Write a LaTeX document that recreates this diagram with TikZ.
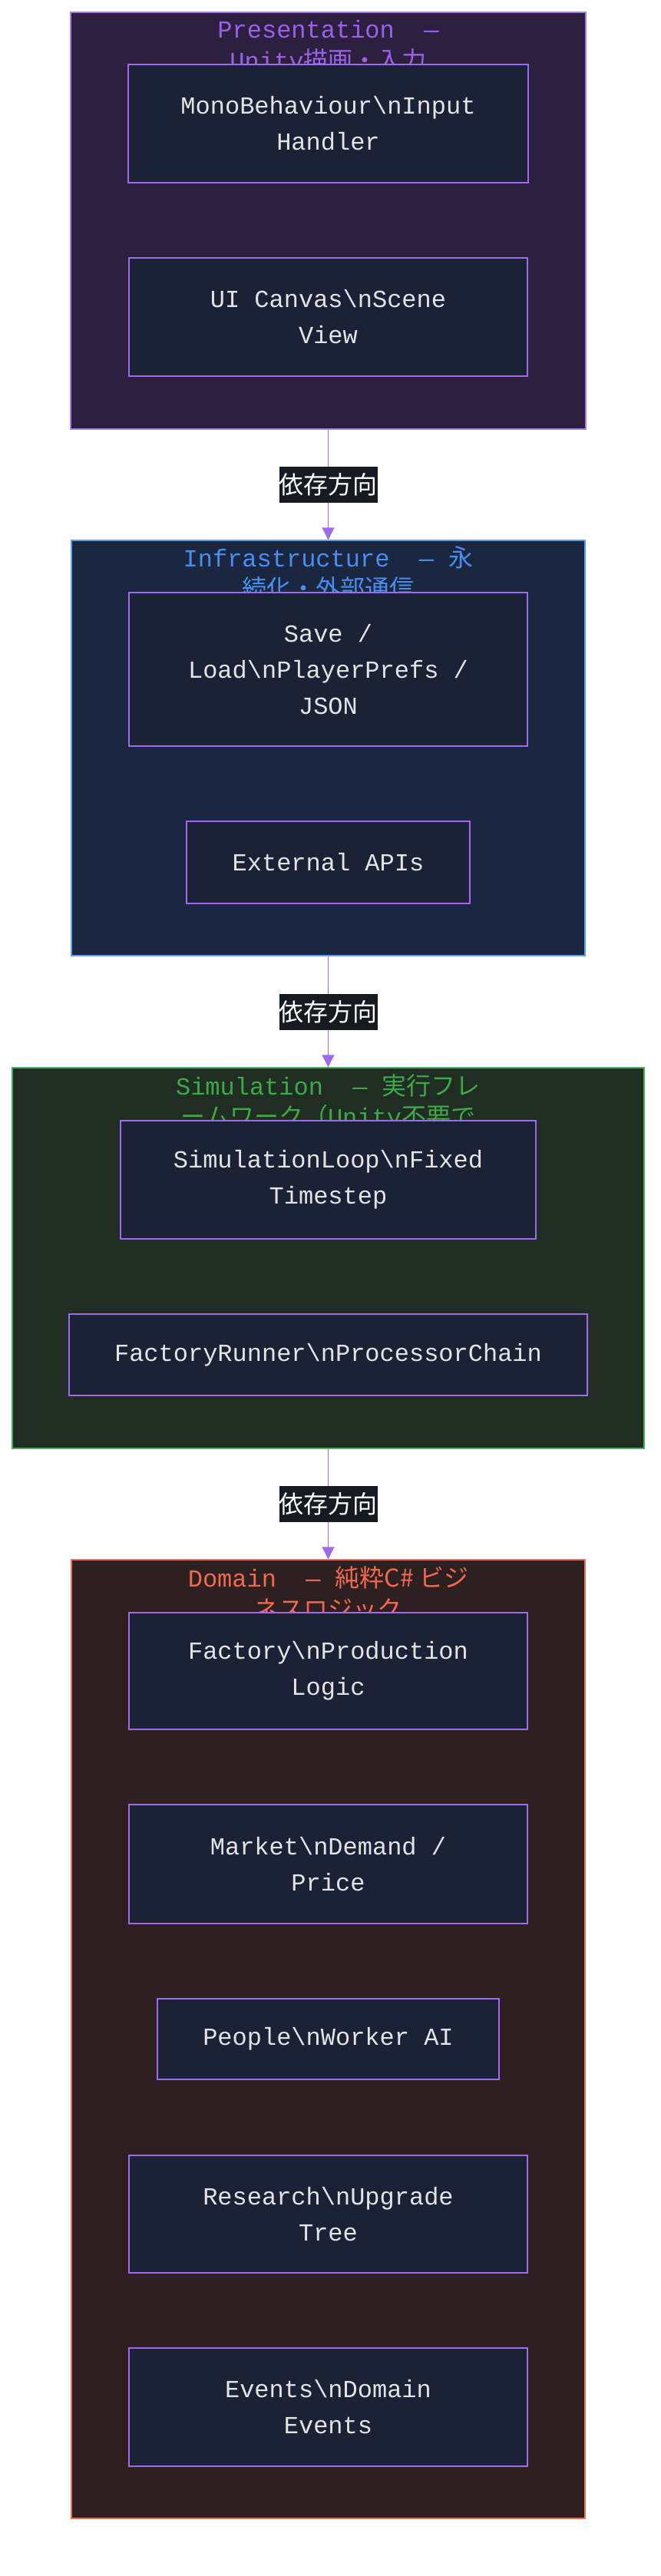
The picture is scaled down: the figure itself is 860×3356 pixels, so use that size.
\documentclass[tikz,border=0pt]{standalone}
\usepackage{fontspec}
\setmonofont{Liberation Mono}
\newfontfamily\cj{Noto Sans CJK JP}
\usepackage{xcolor}
\usepackage{tikz}
\usetikzlibrary{shapes,arrows.meta}
\definecolor{nodefill}{HTML}{1B2236}
\definecolor{nodeedge}{HTML}{9F6AEF}
\definecolor{nodetext}{HTML}{E4E4E4}
\definecolor{presfill}{HTML}{2D1F3F}
\definecolor{presedge}{HTML}{A77BF3}
\definecolor{prestext}{HTML}{9A62E8}
\definecolor{infrafill}{HTML}{1B2640}
\definecolor{infraedge}{HTML}{5A9EF2}
\definecolor{infratext}{HTML}{4A8EF0}
\definecolor{simfill}{HTML}{202D22}
\definecolor{simedge}{HTML}{45B452}
\definecolor{simtext}{HTML}{3FA84A}
\definecolor{domfill}{HTML}{2E1F20}
\definecolor{domedge}{HTML}{F0705A}
\definecolor{domtext}{HTML}{F06A50}
\definecolor{labfill}{HTML}{161B22}
\tikzstyle{group} = [rectangle, draw, line width=1.5pt, inner sep=0pt]
\tikzstyle{block} = [rectangle, draw=nodeedge, fill=nodefill, line width=1.5pt, text=nodetext, align=center, inner sep=0pt, font=\ttfamily\fontsize{32}{47}\selectfont]
\tikzstyle{title} = [inner sep=0pt, font=\ttfamily\fontsize{32}{47}\selectfont]
\tikzstyle{dep} = [fill=labfill, text=white, inner xsep=0pt, minimum height=47pt, font=\cj\fontsize{32}{40}\selectfont]
\tikzstyle{line} = [draw=nodeedge, line width=1.5pt, -{Triangle[length=16pt,width=16pt]}]

\begin{document}
\begin{tikzpicture}[x=1pt,y=-1pt]
\useasboundingbox (0,0) rectangle (860,3356);
% layer boxes
\node [group, draw=presedge, fill=presfill, minimum width=671, minimum height=543] (pres) at (427.5,287.5) {};
\node [group, draw=infraedge, fill=infrafill, minimum width=669, minimum height=541] (infra) at (427.5,974.5) {};
\node [group, draw=simedge, fill=simfill, minimum width=823, minimum height=496] (sim) at (427.5,1639) {};
\node [group, draw=domedge, fill=domfill, minimum width=669, minimum height=1249] (dom) at (427.5,2656.5) {};

% layer titles
\node [title, text=prestext] (presT1) at (427.5,38) {Presentation\ \ —};
\node [title, text=prestext] (presT2) at (427.5,80) {Unity{\cj 描画・入力}};
\node [title, text=infratext] (infraT1) at (427.5,726) {Infrastructure\ \ — {\cj 永}};
\node [title, text=infratext] (infraT2) at (427.5,766) {\cj 続化・外部通信};
\node [title, text=simtext] (simT1) at (427.5,1414) {Simulation\ \ — {\cj 実行フレ}};
\node [title, text=simtext] (simT2) at (427.5,1456) {{\cj ームワーク（}Unity{\cj 不要で}};
\node [title, text=domtext] (domT1) at (427.5,2055) {Domain\ \ — {\cj 純粋C\# ビジ}};
\node [title, text=domtext] (domT2) at (427.5,2097) {\cj ネスロジック};

% presentation
\node [block, minimum width=521, minimum height=154] (input) at (427.5,161) {MonoBehaviour\textbackslash nInput\\Handler};
\node [block, minimum width=519, minimum height=154] (canvas) at (427.5,413) {UI Canvas\textbackslash nScene\\View};
% infrastructure
\node [block, minimum width=519, minimum height=200] (save) at (427.5,872) {Save /\\Load\textbackslash nPlayerPrefs /\\JSON};
\node [block, minimum width=369, minimum height=107] (apis) at (427.5,1123.5) {External APIs};
% simulation
\node [block, minimum width=541, minimum height=154] (loop) at (427.5,1537) {SimulationLoop\textbackslash nFixed\\Timestep};
\node [block, minimum width=675, minimum height=106] (runner) at (427.5,1765) {FactoryRunner\textbackslash nProcessorChain};
% domain
\node [block, minimum width=519, minimum height=152] (factory) at (427.5,2177) {Factory\textbackslash nProduction\\Logic};
\node [block, minimum width=519, minimum height=155] (market) at (427.5,2428.5) {Market\textbackslash nDemand /\\Price};
\node [block, minimum width=445, minimum height=105] (people) at (427.5,2656.5) {People\textbackslash nWorker AI};
\node [block, minimum width=519, minimum height=153] (research) at (427.5,2884.5) {Research\textbackslash nUpgrade\\Tree};
\node [block, minimum width=519, minimum height=154] (events) at (427.5,3136) {Events\textbackslash nDomain\\Events};

% dependencies
\path [line] (pres) -- node [dep] {依存方向} (infra);
\path [line] (infra) -- node [dep] {依存方向} (sim);
\path [line] (sim) -- node [dep] {依存方向} (dom);
\end{tikzpicture}
\end{document}
